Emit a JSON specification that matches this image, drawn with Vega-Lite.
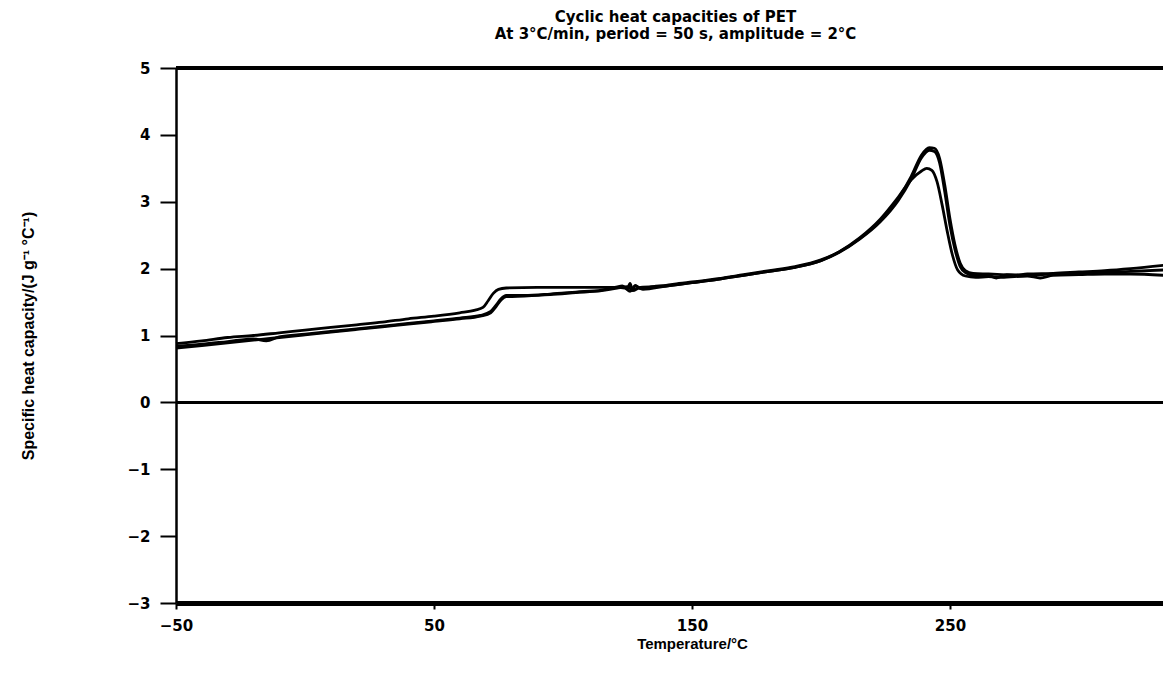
{
  "$schema": "https://vega.github.io/schema/vega-lite/v6.json",
  "width": 987,
  "height": 535,
  "autosize": {"type": "none"},
  "padding": {"left": 176, "top": 68, "right": 0, "bottom": 71},
  "background": "white",
  "config": {
    "view": {"stroke": null},
    "font": "Liberation Sans"
  },
  "title": {
    "text": ["Cyclic heat capacities of PET", "At 3°C/min, period = 50 s, amplitude = 2°C"],
    "fontSize": 15,
    "fontWeight": "bold",
    "font": "DejaVu Sans",
    "color": "black",
    "lineHeight": 17,
    "anchor": "middle",
    "offset": 19,
    "dx": 6
  },
  "data": {
    "values": [
      {"series": "A", "T": -50, "cp": 0.88},
      {"series": "A", "T": -40, "cp": 0.92},
      {"series": "A", "T": -30, "cp": 0.97},
      {"series": "A", "T": -20, "cp": 1.0},
      {"series": "A", "T": -10, "cp": 1.04},
      {"series": "A", "T": 0, "cp": 1.08},
      {"series": "A", "T": 10, "cp": 1.12},
      {"series": "A", "T": 20, "cp": 1.16},
      {"series": "A", "T": 30, "cp": 1.2},
      {"series": "A", "T": 40, "cp": 1.25},
      {"series": "A", "T": 50, "cp": 1.29},
      {"series": "A", "T": 60, "cp": 1.34},
      {"series": "A", "T": 66, "cp": 1.38},
      {"series": "A", "T": 69, "cp": 1.42},
      {"series": "A", "T": 71, "cp": 1.52},
      {"series": "A", "T": 73, "cp": 1.63},
      {"series": "A", "T": 75, "cp": 1.69},
      {"series": "A", "T": 78, "cp": 1.71},
      {"series": "A", "T": 90, "cp": 1.72},
      {"series": "A", "T": 100, "cp": 1.72},
      {"series": "A", "T": 110, "cp": 1.72},
      {"series": "A", "T": 120, "cp": 1.72},
      {"series": "A", "T": 123, "cp": 1.74},
      {"series": "A", "T": 125, "cp": 1.7},
      {"series": "A", "T": 126, "cp": 1.78},
      {"series": "A", "T": 127, "cp": 1.68},
      {"series": "A", "T": 128, "cp": 1.75},
      {"series": "A", "T": 130, "cp": 1.7},
      {"series": "A", "T": 135, "cp": 1.73},
      {"series": "A", "T": 140, "cp": 1.75},
      {"series": "A", "T": 145, "cp": 1.78},
      {"series": "A", "T": 150, "cp": 1.8},
      {"series": "A", "T": 160, "cp": 1.85},
      {"series": "A", "T": 170, "cp": 1.91},
      {"series": "A", "T": 180, "cp": 1.97},
      {"series": "A", "T": 190, "cp": 2.03},
      {"series": "A", "T": 200, "cp": 2.13},
      {"series": "A", "T": 207, "cp": 2.25},
      {"series": "A", "T": 215, "cp": 2.45},
      {"series": "A", "T": 223, "cp": 2.72},
      {"series": "A", "T": 230, "cp": 3.05},
      {"series": "A", "T": 235, "cp": 3.38},
      {"series": "A", "T": 239, "cp": 3.7},
      {"series": "A", "T": 242, "cp": 3.81},
      {"series": "A", "T": 244, "cp": 3.8},
      {"series": "A", "T": 246, "cp": 3.65},
      {"series": "A", "T": 248, "cp": 3.25},
      {"series": "A", "T": 250, "cp": 2.75},
      {"series": "A", "T": 252, "cp": 2.35},
      {"series": "A", "T": 254, "cp": 2.08},
      {"series": "A", "T": 256, "cp": 1.97},
      {"series": "A", "T": 259, "cp": 1.93},
      {"series": "A", "T": 265, "cp": 1.92},
      {"series": "A", "T": 270, "cp": 1.91},
      {"series": "A", "T": 275, "cp": 1.9},
      {"series": "A", "T": 280, "cp": 1.92},
      {"series": "A", "T": 290, "cp": 1.93},
      {"series": "A", "T": 300, "cp": 1.95},
      {"series": "A", "T": 310, "cp": 1.97},
      {"series": "A", "T": 320, "cp": 2.0},
      {"series": "A", "T": 333, "cp": 2.05},

      {"series": "B", "T": -50, "cp": 0.84},
      {"series": "B", "T": -40, "cp": 0.87},
      {"series": "B", "T": -30, "cp": 0.91},
      {"series": "B", "T": -20, "cp": 0.95},
      {"series": "B", "T": -15, "cp": 0.92},
      {"series": "B", "T": -10, "cp": 0.98},
      {"series": "B", "T": 0, "cp": 1.02},
      {"series": "B", "T": 10, "cp": 1.06},
      {"series": "B", "T": 20, "cp": 1.1},
      {"series": "B", "T": 30, "cp": 1.14},
      {"series": "B", "T": 40, "cp": 1.18},
      {"series": "B", "T": 50, "cp": 1.22},
      {"series": "B", "T": 60, "cp": 1.26},
      {"series": "B", "T": 68, "cp": 1.3},
      {"series": "B", "T": 72, "cp": 1.36},
      {"series": "B", "T": 74, "cp": 1.45},
      {"series": "B", "T": 76, "cp": 1.55},
      {"series": "B", "T": 78, "cp": 1.6},
      {"series": "B", "T": 85, "cp": 1.6},
      {"series": "B", "T": 95, "cp": 1.62},
      {"series": "B", "T": 105, "cp": 1.65},
      {"series": "B", "T": 115, "cp": 1.68},
      {"series": "B", "T": 121, "cp": 1.72},
      {"series": "B", "T": 124, "cp": 1.71},
      {"series": "B", "T": 126, "cp": 1.66},
      {"series": "B", "T": 128, "cp": 1.74},
      {"series": "B", "T": 131, "cp": 1.69},
      {"series": "B", "T": 140, "cp": 1.74},
      {"series": "B", "T": 150, "cp": 1.79},
      {"series": "B", "T": 160, "cp": 1.84},
      {"series": "B", "T": 170, "cp": 1.9},
      {"series": "B", "T": 180, "cp": 1.96},
      {"series": "B", "T": 190, "cp": 2.02},
      {"series": "B", "T": 200, "cp": 2.12},
      {"series": "B", "T": 207, "cp": 2.24},
      {"series": "B", "T": 215, "cp": 2.44},
      {"series": "B", "T": 223, "cp": 2.7},
      {"series": "B", "T": 230, "cp": 3.02},
      {"series": "B", "T": 235, "cp": 3.34},
      {"series": "B", "T": 239, "cp": 3.66},
      {"series": "B", "T": 242, "cp": 3.77},
      {"series": "B", "T": 244, "cp": 3.75},
      {"series": "B", "T": 246, "cp": 3.58},
      {"series": "B", "T": 248, "cp": 3.15},
      {"series": "B", "T": 250, "cp": 2.65},
      {"series": "B", "T": 252, "cp": 2.28},
      {"series": "B", "T": 254, "cp": 2.03},
      {"series": "B", "T": 256, "cp": 1.94},
      {"series": "B", "T": 259, "cp": 1.9},
      {"series": "B", "T": 265, "cp": 1.9},
      {"series": "B", "T": 268, "cp": 1.86},
      {"series": "B", "T": 272, "cp": 1.91},
      {"series": "B", "T": 280, "cp": 1.9},
      {"series": "B", "T": 290, "cp": 1.92},
      {"series": "B", "T": 300, "cp": 1.93},
      {"series": "B", "T": 310, "cp": 1.95},
      {"series": "B", "T": 320, "cp": 1.96},
      {"series": "B", "T": 333, "cp": 1.98},

      {"series": "C", "T": -50, "cp": 0.81},
      {"series": "C", "T": -40, "cp": 0.85},
      {"series": "C", "T": -30, "cp": 0.89},
      {"series": "C", "T": -20, "cp": 0.93},
      {"series": "C", "T": -10, "cp": 0.97},
      {"series": "C", "T": 0, "cp": 1.01},
      {"series": "C", "T": 10, "cp": 1.05},
      {"series": "C", "T": 20, "cp": 1.09},
      {"series": "C", "T": 30, "cp": 1.13},
      {"series": "C", "T": 40, "cp": 1.17},
      {"series": "C", "T": 50, "cp": 1.21},
      {"series": "C", "T": 60, "cp": 1.25},
      {"series": "C", "T": 68, "cp": 1.29},
      {"series": "C", "T": 72, "cp": 1.34},
      {"series": "C", "T": 74, "cp": 1.43},
      {"series": "C", "T": 76, "cp": 1.53},
      {"series": "C", "T": 78, "cp": 1.58},
      {"series": "C", "T": 85, "cp": 1.59},
      {"series": "C", "T": 95, "cp": 1.61},
      {"series": "C", "T": 105, "cp": 1.64},
      {"series": "C", "T": 115, "cp": 1.67},
      {"series": "C", "T": 121, "cp": 1.71},
      {"series": "C", "T": 125, "cp": 1.73},
      {"series": "C", "T": 127, "cp": 1.67},
      {"series": "C", "T": 130, "cp": 1.72},
      {"series": "C", "T": 140, "cp": 1.74},
      {"series": "C", "T": 150, "cp": 1.79},
      {"series": "C", "T": 160, "cp": 1.84},
      {"series": "C", "T": 170, "cp": 1.9},
      {"series": "C", "T": 180, "cp": 1.96},
      {"series": "C", "T": 190, "cp": 2.02},
      {"series": "C", "T": 200, "cp": 2.12},
      {"series": "C", "T": 207, "cp": 2.25},
      {"series": "C", "T": 215, "cp": 2.46},
      {"series": "C", "T": 223, "cp": 2.74},
      {"series": "C", "T": 230, "cp": 3.07},
      {"series": "C", "T": 235, "cp": 3.33},
      {"series": "C", "T": 239, "cp": 3.46},
      {"series": "C", "T": 241, "cp": 3.5},
      {"series": "C", "T": 243, "cp": 3.47},
      {"series": "C", "T": 245, "cp": 3.3},
      {"series": "C", "T": 247, "cp": 2.95},
      {"series": "C", "T": 249, "cp": 2.55},
      {"series": "C", "T": 251, "cp": 2.2},
      {"series": "C", "T": 253, "cp": 1.98},
      {"series": "C", "T": 256, "cp": 1.89},
      {"series": "C", "T": 260, "cp": 1.87},
      {"series": "C", "T": 265, "cp": 1.88},
      {"series": "C", "T": 270, "cp": 1.87},
      {"series": "C", "T": 280, "cp": 1.89},
      {"series": "C", "T": 285, "cp": 1.86},
      {"series": "C", "T": 290, "cp": 1.9},
      {"series": "C", "T": 300, "cp": 1.91},
      {"series": "C", "T": 310, "cp": 1.92},
      {"series": "C", "T": 320, "cp": 1.92},
      {"series": "C", "T": 333, "cp": 1.9}
    ]
  },
  "layer": [
    {
      "mark": {"type": "rule", "color": "black", "strokeWidth": 2},
      "encoding": {"y": {"datum": 0, "type": "quantitative"}}
    },
    {
      "mark": {"type": "rule", "color": "black", "strokeWidth": 3.5},
      "encoding": {"y": {"datum": 5, "type": "quantitative"}}
    },
    {
      "mark": {"type": "line", "color": "black", "strokeWidth": 2.8, "interpolate": "monotone"},
      "encoding": {
        "x": {
          "field": "T",
          "type": "quantitative",
          "scale": {"domain": [-50, 332.6], "nice": false, "zero": false},
          "axis": {
            "title": "Temperature/°C",
            "values": [-50, 50, 150, 250],
            "format": "d",
            "grid": false,
            "domainColor": "black",
            "domainWidth": 5,
            "tickColor": "black",
            "tickWidth": 2,
            "tickSize": 6,
            "labelPadding": 9,
            "labelFont": "DejaVu Sans",
            "labelFontSize": 15,
            "labelFontWeight": "bold",
            "labelColor": "black",
            "labelFlush": false,
            "titleFont": "Liberation Sans",
            "titleFontSize": 15,
            "titleFontWeight": "bold",
            "titleColor": "black",
            "titlePadding": 3,
            "titleX": 516
          }
        },
        "y": {
          "field": "cp",
          "type": "quantitative",
          "scale": {"domain": [-3, 5], "nice": false, "zero": false},
          "axis": {
            "title": "Specific heat capacity/(J g⁻¹ °C⁻¹)",
            "values": [-3, -2, -1, 0, 1, 2, 3, 4, 5],
            "format": "d",
            "grid": false,
            "domainColor": "black",
            "domainWidth": 2.5,
            "tickColor": "black",
            "tickWidth": 2,
            "tickSize": 16,
            "labelPadding": 10,
            "labelFont": "DejaVu Sans",
            "labelFontSize": 15,
            "labelFontWeight": "bold",
            "labelColor": "black",
            "labelFlush": false,
            "titleFont": "Liberation Sans",
            "titleFontSize": 16,
            "titleFontWeight": "bold",
            "titleColor": "black",
            "titleX": -140
          }
        },
        "detail": {"field": "series", "type": "nominal"}
      }
    }
  ]
}
